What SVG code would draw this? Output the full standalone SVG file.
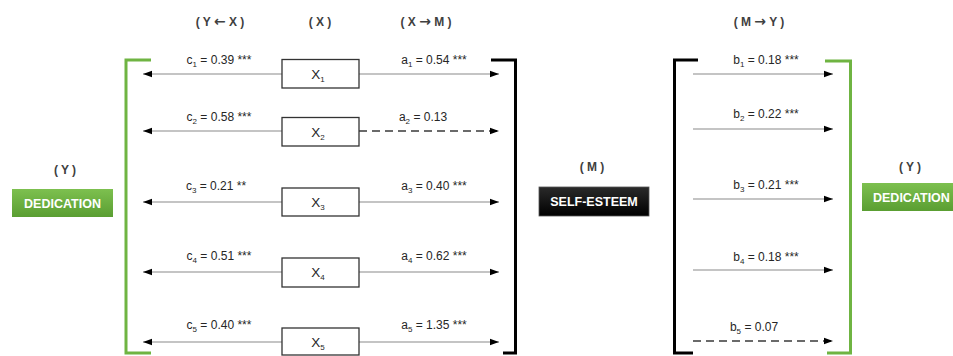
<svg xmlns="http://www.w3.org/2000/svg" width="953" height="356" viewBox="0 0 953 356">
<defs>
<linearGradient id="gGreen" x1="0" y1="0" x2="0" y2="1">
<stop offset="0" stop-color="#7dc04f"/>
<stop offset="1" stop-color="#5a9e32"/>
</linearGradient>
<linearGradient id="gBlack" x1="0" y1="0" x2="0" y2="1">
<stop offset="0" stop-color="#2a2a2a"/>
<stop offset="1" stop-color="#000000"/>
</linearGradient>
<marker id="ah" viewBox="0 0 10 10" refX="10" refY="5" markerWidth="9" markerHeight="9" markerUnits="userSpaceOnUse" orient="auto">
<path d="M0,1.5 L10,5 L0,8.5 Z" fill="#000"/>
</marker>
</defs>
<style>
text{font-family:"Liberation Sans",Arial,sans-serif;}
.hdr{font-size:12px;font-weight:bold;fill:#404040;text-anchor:middle;}
.arw{font-family:"DejaVu Sans",sans-serif;font-size:14px;}
.lbl{font-size:12px;fill:#262626;text-anchor:middle;}
.sub{font-size:8px;}
.xbox{fill:#fff;stroke:#333;stroke-width:1.3;}
.xt{font-size:13.5px;fill:#262626;text-anchor:middle;}
.solid{stroke:#8a8a8a;stroke-width:1.2;fill:none;marker-end:url(#ah);}
.dash{stroke:#3a3a3a;stroke-width:1.5;fill:none;stroke-dasharray:8 5;marker-end:url(#ah);}
.gbr{stroke:#6fb442;stroke-width:3;fill:none;}
.kbr{stroke:#000;stroke-width:3;fill:none;}
.btxt{font-size:12.5px;font-weight:bold;fill:#fff;}
</style>
<rect width="953" height="356" fill="#fff"/>

<g id="headers">
<text class="hdr" x="220" y="26">( Y <tspan class="arw">←</tspan> X )</text>
<text class="hdr" x="320" y="26">( X )</text>
<text class="hdr" x="426" y="26">( X <tspan class="arw">→</tspan> M )</text>
<text class="hdr" x="759" y="26">( M <tspan class="arw">→</tspan> Y )</text>
<text class="hdr" x="65" y="174">( Y )</text>
<text class="hdr" x="592" y="171">( M )</text>
<text class="hdr" x="910" y="171">( Y )</text>
</g>

<g id="brackets">
<path class="gbr" d="M151,60 H126 V353 H151"/>
<path class="kbr" d="M491,60 H515.5 V353 H503"/>
<path class="kbr" d="M698,60 H674.5 V353 H693"/>
<path class="gbr" d="M825,61 H850.5 V353 H827"/>
</g>

<g id="dedication-left">
<rect x="12" y="189" width="101" height="28" fill="url(#gGreen)"/>
<text class="btxt" x="62.5" y="207.5" text-anchor="middle">DEDICATION</text>
</g>
<g id="self-esteem">
<rect x="539" y="187" width="110" height="29" fill="url(#gBlack)" stroke="#555" stroke-width="0.8"/>
<text class="btxt" x="594" y="206" text-anchor="middle">SELF-ESTEEM</text>
</g>
<g id="dedication-right">
<rect x="862" y="183" width="102" height="28" fill="url(#gGreen)"/>
<text class="btxt" x="873" y="201.5">DEDICATION</text>
</g>

<g id="connectors">
<line class="solid" x1="282" y1="74" x2="143" y2="74"/>
<line class="solid" x1="282" y1="131" x2="143" y2="131"/>
<line class="solid" x1="282" y1="202" x2="143" y2="202"/>
<line class="solid" x1="282" y1="272" x2="143" y2="272"/>
<line class="solid" x1="282" y1="342" x2="143" y2="342"/>
<line class="solid" x1="359" y1="74" x2="499" y2="74"/>
<line class="dash" x1="359" y1="131" x2="499" y2="131"/>
<line class="solid" x1="359" y1="202" x2="499" y2="202"/>
<line class="solid" x1="359" y1="272" x2="499" y2="272"/>
<line class="solid" x1="359" y1="342" x2="499" y2="342"/>
<line class="solid" x1="693" y1="74" x2="833" y2="74"/>
<line class="solid" x1="693" y1="129" x2="833" y2="129"/>
<line class="solid" x1="693" y1="199" x2="833" y2="199"/>
<line class="solid" x1="693" y1="270" x2="833" y2="270"/>
<line class="dash" x1="693" y1="341" x2="833" y2="341"/>
</g>

<g id="labels">
<text class="lbl" x="219" y="64">c<tspan class="sub" dy="3">1</tspan><tspan dy="-3"> = 0.39 ***</tspan></text>
<text class="lbl" x="219" y="121">c<tspan class="sub" dy="3">2</tspan><tspan dy="-3"> = 0.58 ***</tspan></text>
<text class="lbl" x="216" y="190">c<tspan class="sub" dy="3">3</tspan><tspan dy="-3"> = 0.21 **</tspan></text>
<text class="lbl" x="219" y="260">c<tspan class="sub" dy="3">4</tspan><tspan dy="-3"> = 0.51 ***</tspan></text>
<text class="lbl" x="219" y="329">c<tspan class="sub" dy="3">5</tspan><tspan dy="-3"> = 0.40 ***</tspan></text>
<text class="lbl" x="434" y="64">a<tspan class="sub" dy="3">1</tspan><tspan dy="-3"> = 0.54 ***</tspan></text>
<text class="lbl" x="423" y="121">a<tspan class="sub" dy="3">2</tspan><tspan dy="-3"> = 0.13</tspan></text>
<text class="lbl" x="434" y="190">a<tspan class="sub" dy="3">3</tspan><tspan dy="-3"> = 0.40 ***</tspan></text>
<text class="lbl" x="434" y="260">a<tspan class="sub" dy="3">4</tspan><tspan dy="-3"> = 0.62 ***</tspan></text>
<text class="lbl" x="434" y="329">a<tspan class="sub" dy="3">5</tspan><tspan dy="-3"> = 1.35 ***</tspan></text>
<text class="lbl" x="766" y="64">b<tspan class="sub" dy="3">1</tspan><tspan dy="-3"> = 0.18 ***</tspan></text>
<text class="lbl" x="766" y="118">b<tspan class="sub" dy="3">2</tspan><tspan dy="-3"> = 0.22 ***</tspan></text>
<text class="lbl" x="766" y="189">b<tspan class="sub" dy="3">3</tspan><tspan dy="-3"> = 0.21 ***</tspan></text>
<text class="lbl" x="766" y="261">b<tspan class="sub" dy="3">4</tspan><tspan dy="-3"> = 0.18 ***</tspan></text>
<text class="lbl" x="754" y="331">b<tspan class="sub" dy="3">5</tspan><tspan dy="-3"> = 0.07</tspan></text>
</g>

<g id="x1"><rect class="xbox" x="282" y="59.5" width="77" height="28.5"/><text class="xt" x="318" y="79">X<tspan class="sub" dy="3">1</tspan></text></g>
<g id="x2"><rect class="xbox" x="282" y="117.5" width="77" height="28.5"/><text class="xt" x="318" y="137">X<tspan class="sub" dy="3">2</tspan></text></g>
<g id="x3"><rect class="xbox" x="282" y="188" width="77" height="28"/><text class="xt" x="318" y="207">X<tspan class="sub" dy="3">3</tspan></text></g>
<g id="x4"><rect class="xbox" x="282" y="258" width="77" height="29"/><text class="xt" x="318" y="277">X<tspan class="sub" dy="3">4</tspan></text></g>
<g id="x5"><rect class="xbox" x="282" y="328" width="77" height="27"/><text class="xt" x="318" y="347">X<tspan class="sub" dy="3">5</tspan></text></g>
</svg>
